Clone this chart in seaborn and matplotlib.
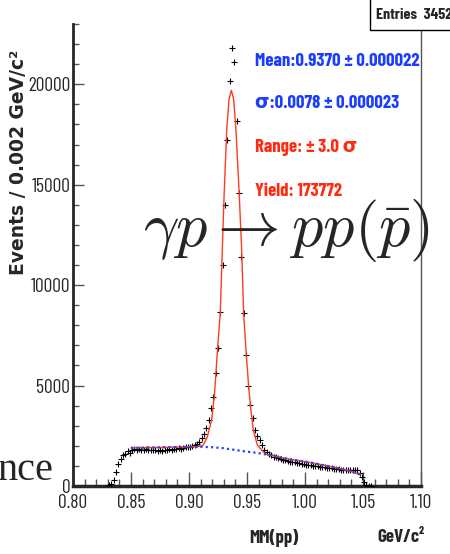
import numpy as np
import pandas as pd
import seaborn as sns
import matplotlib
matplotlib.use('Agg')
import matplotlib.pyplot as plt
from matplotlib import font_manager
from matplotlib.ticker import MultipleLocator
from matplotlib.patches import Rectangle

# histogram, 0.002 GeV/c^2 bins, first bin centre at 0.831
bin_width = 0.002
first_bin = 0.831
counts = [30, 100, 300, 700, 1080, 1330, 1530, 1610, 1740, 1650, 1790,
          1820, 1800, 1830, 1810, 1800, 1820, 1790, 1800, 1810, 1780, 1750, 1800,
          1760, 1790, 1770, 1820, 1800, 1830, 1850, 1870, 1860, 1900, 1920, 1940,
          1950, 1990, 2040, 2090, 2200, 2370, 2580, 2900, 3300, 3900, 4440, 5620,
          6880, 8670, 11000, 14000, 17250, 20150, 21800, 21100, 18150, 14600, 11400,
          8590, 6530, 5000, 4040, 3370, 2790, 2500, 2280, 2040, 1800,
          1680, 1580, 1520, 1460, 1420, 1380, 1340, 1300, 1270, 1230, 1210, 1190,
          1170, 1150, 1130, 1110, 1090, 1070, 1050, 1040, 1020, 1000, 980, 960,
          950, 930, 920, 910, 890, 860, 840, 830, 820, 810, 800, 800, 800, 800,
          800, 790, 650, 460, 200, 50, 20, 10]

# fit (signal + background)
fit_x = [0.850, 0.870, 0.890, 0.905, 0.910, 0.9123, 0.9158, 0.9195, 0.9218,
         0.9247, 0.927, 0.9287, 0.9302, 0.9325, 0.9345, 0.9365, 0.9385, 0.9405,
         0.9434, 0.9454, 0.9471, 0.9494, 0.9514, 0.9529, 0.9554, 0.9589, 0.9626,
         0.966, 0.970, 0.980, 0.990, 1.000, 1.010, 1.020, 1.030, 1.040, 1.048]
fit_y = [1900, 1920, 1940, 1955, 1980, 2040, 2450, 3280, 4440,
         6880, 8670, 11740, 14390, 17710, 19250, 19700, 19250, 17710,
         14390, 11740, 8590, 6520, 4990, 4030, 2790, 2040, 1790,
         1600, 1530, 1410, 1300, 1220, 1110, 990, 870, 720, 560]

# background only, blue dotted
bkg_x = [0.850, 0.860, 0.870, 0.880, 0.890, 0.900, 0.910, 0.920, 0.930, 0.940,
         0.950, 0.960, 0.970, 0.980, 0.990, 1.000, 1.010, 1.020, 1.030, 1.040, 1.048]
bkg_y = [1900, 1910, 1920, 1930, 1940, 1950, 1950, 1930, 1880, 1790,
         1710, 1640, 1530, 1410, 1300, 1220, 1110, 990, 870, 720, 560]

x_ticks = [0.80, 0.85, 0.90, 0.95, 1.00, 1.05, 1.10]
x_ticklabels = ['0.80', '0.85', '0.90', '0.95', '1.00', '1.05', '1.10']
y_ticks = [0, 5000, 10000, 15000, 20000]

stats_text = ['Mean:0.9370 \u00b1 0.000022', '\u03c3:0.0078 \u00b1 0.000023',
              'Range: \u00b1 3.0 \u03c3', 'Yield: 173772']
stats_colors = ['#1a3cff', '#1a3cff', '#ff2a10', '#ff2a10']
stats_rows = [61, 104, 147, 191]

W, H = 450, 554


def px(x, y):
    return x / W, 1 - y / H


sns.set_style('ticks')
names = set(f.name for f in font_manager.fontManager.ttflist)
if 'Barlow Condensed' in names:
    narrow, scale = 'Barlow Condensed', 1.0
else:
    narrow, scale = 'Liberation Sans', 0.8
plt.rcParams['font.family'] = [narrow, 'DejaVu Sans']
plt.rcParams['mathtext.fontset'] = 'cm'

hist = pd.DataFrame({'mm': first_bin + bin_width * np.arange(len(counts)),
                     'events': counts})

fig = plt.figure(figsize=(4.5, 5.54), dpi=100)
ax = fig.add_axes([73 / W, 1 - 486 / H, 348 / W, 462 / H])

sns.scatterplot(data=hist, x='mm', y='events', marker='+', color='black',
                s=14, linewidth=0.8, ax=ax, zorder=3)
sns.lineplot(x=fit_x, y=fit_y, color='#ff3b1f', lw=1.0, sort=False,
             estimator=None, ax=ax, zorder=4)
sns.lineplot(x=bkg_x, y=bkg_y, color='#2244ff', lw=1.6, linestyle=(0, (1, 1.4)),
             sort=False, estimator=None, ax=ax, zorder=5)

ax.set_xlim(0.8, 1.1)
ax.set_ylim(0, 23000)
ax.set_xlabel('')
ax.set_ylabel('')
ax.set_xticks(x_ticks)
ax.set_xticklabels(x_ticklabels)
ax.set_yticks(y_ticks)
ax.set_yticklabels([str(v) for v in y_ticks])
ax.xaxis.set_minor_locator(MultipleLocator(0.01))
ax.yaxis.set_minor_locator(MultipleLocator(1000))
ax.tick_params(which='both', direction='in', color='#555555', width=1,
               labelsize=14 * scale)
ax.tick_params(axis='x', which='major', length=10, pad=6)
ax.tick_params(axis='x', which='minor', length=5)
ax.tick_params(axis='y', which='major', length=8, pad=2)
ax.tick_params(axis='y', which='minor', length=4.5)

ax.spines['top'].set_visible(False)
ax.spines['left'].set_linewidth(2)
ax.spines['bottom'].set_linewidth(2.5)
ax.spines['right'].set_linewidth(1)
ax.spines['right'].set_color('#555555')

# axis titles (ROOT style)
fig.text(*px(274, 538), 'MM(pp)', ha='center', va='center', fontsize=13.5 * scale,
         fontweight='bold')
fig.text(*px(401, 537), 'GeV/c\u00b2', ha='center', va='center',
         fontsize=13.5 * scale, fontweight='bold')
fig.text(*px(19, 162), 'Events / 0.002 GeV/c\u00b2', rotation=90, ha='center',
         va='center', fontsize=13.5, fontweight='bold', family=['DejaVu Sans'])

for txt, col, row in zip(stats_text, stats_colors, stats_rows):
    fig.text(*px(255, row), txt, color=col, ha='left', va='center',
             fontsize=13.5 * scale, fontweight='bold',
             family=[narrow, 'DejaVu Sans'])

# stats box
box = Rectangle(px(370, 30), 90 / W, 34 / H, transform=fig.transFigure,
                facecolor='white', edgecolor='black', lw=1, zorder=5)
fig.add_artist(box)
fig.text(*px(376, 15), 'Entries  34523', ha='left', va='center',
         fontsize=11.5 * scale, fontweight='bold', zorder=6)

# slide overlays
fig.text(*px(143, 246), r'$\gamma p \rightarrow pp(\bar{p})$', ha='left',
         va='baseline', fontsize=45, zorder=6)
fig.text(*px(53, 480), 'nce', ha='right', va='baseline', fontsize=29,
         family=['Liberation Serif'])

fig.savefig('out.png', dpi=100)
